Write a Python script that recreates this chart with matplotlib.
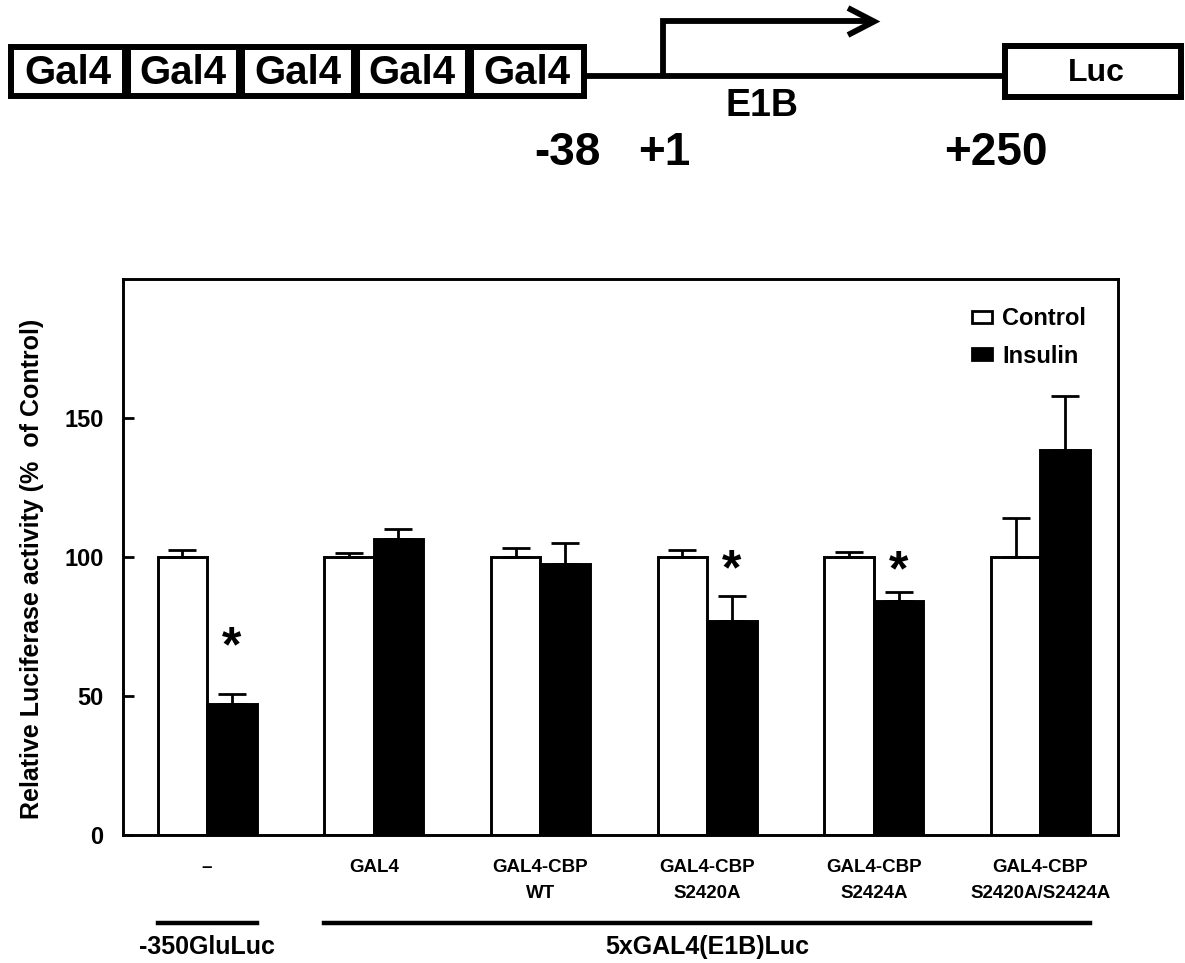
import matplotlib
matplotlib.use("Agg")
import matplotlib.pyplot as plt
import matplotlib.transforms as mtransforms
from matplotlib.patches import Rectangle
from matplotlib.lines import Line2D
import numpy as np

plt.rcParams['font.family'] = ['Liberation Sans', 'DejaVu Sans']
plt.rcParams['font.weight'] = 'bold'

# ---- data -------------------------------------------------------------
categories = ["\u2013", "GAL4", "GAL4-CBP\nWT", "GAL4-CBP\nS2420A",
              "GAL4-CBP\nS2424A", "GAL4-CBP\nS2420A/S2424A"]
control = [100, 100, 100, 100, 100, 100]
control_err = [2.5, 1.5, 3.3, 2.5, 1.8, 14.0]
insulin = [47.0, 106.5, 97.5, 77.0, 84.0, 138.5]
insulin_err = [3.7, 3.6, 7.5, 9.0, 3.5, 19.3]
significance_y = [67, None, None, 95, 94.5, None]   # asterisk heights

reporters = ["-350GluLuc", "5xGAL4(E1B)Luc"]
reporter_groups = [(0, 0), (1, 5)]

series_names = ["Control", "Insulin"]
yticks = [0, 50, 100, 150]

# promoter schematic labels
site_labels = ["Gal4"] * 5
core_label = "E1B"
gene_label = "Luc"
coord_labels = ["-38", "+1", "+250"]

# ---- figure -----------------------------------------------------------
W, H = 1185, 963
fig = plt.figure(figsize=(W / 100, H / 100), dpi=100)

# schematic drawn on a pixel-coordinate canvas
axd = fig.add_axes([0, 0, 1, 1])
axd.set_xlim(0, W)
axd.set_ylim(H, 0)
axd.axis('off')

lw_box = 4.3
box_left, box_right, box_top, box_bot = 11, 584, 47, 96
step = (box_right - box_left) / len(site_labels)
axd.add_patch(Rectangle((box_left, box_top), box_right - box_left, box_bot - box_top,
                        fill=False, lw=lw_box, ec='black', joinstyle='miter'))
for i, lab in enumerate(site_labels):
    if i > 0:
        xd = box_left + i * step
        axd.plot([xd, xd], [box_top, box_bot], color='black', lw=6.5, solid_capstyle='butt')
    axd.text(box_left + (i + 0.5) * step, (box_top + box_bot) / 2 + 1, lab,
             ha='center', va='center', fontsize=29, fontweight='bold')

# main line, promoter arrow
axd.plot([box_right, 1005], [76, 76], color='black', lw=4.2, solid_capstyle='butt')
axd.plot([663, 663, 872], [78, 21.5, 21.5], color='black', lw=4.2,
         solid_joinstyle='miter', solid_capstyle='butt')
axd.plot([848, 874, 848], [8, 21.5, 35], color='black', lw=4.2,
         solid_joinstyle='miter', solid_capstyle='butt')
axd.text(762, 106, core_label, ha='center', va='center', fontsize=27, fontweight='bold')

# reporter gene box
axd.add_patch(Rectangle((1005, 46), 176, 51, fill=False, lw=lw_box, ec='black',
                        joinstyle='miter'))
axd.text(1096, 73, gene_label, ha='center', va='center', fontsize=23, fontweight='bold')

for xc, lab in zip([567, 664, 996], coord_labels):
    axd.text(xc, 153, lab, ha='center', va='center', fontsize=33, fontweight='bold')

# ---- bar chart ----------------------------------------------------------
ax = fig.add_axes([123 / W, (H - 835) / H, 995 / W, 556 / H])
x = np.arange(len(categories))
w = 0.297

ax.bar(x - w / 2, control, w, color='white', edgecolor='black', linewidth=2.1,
       label=series_names[0], zorder=2)
ax.bar(x + w / 2, insulin, w, color='black', edgecolor='black', linewidth=2.1,
       label=series_names[1], zorder=2)
ax.errorbar(x - w / 2, control, yerr=[np.zeros(len(x)), control_err], fmt='none',
            ecolor='black', elinewidth=2.0, capsize=10, capthick=2.0, zorder=3)
ax.errorbar(x + w / 2, insulin, yerr=[np.zeros(len(x)), insulin_err], fmt='none',
            ecolor='black', elinewidth=2.0, capsize=10, capthick=2.0, zorder=3)

for xi, sy in zip(x, significance_y):
    if sy is not None:
        ax.text(xi + w / 2, sy, "*", ha='center', va='center', fontsize=36,
                fontweight='bold')

ax.set_xlim(-0.504, 5.465)
ax.set_ylim(0, 200)
ax.set_yticks(yticks)
ax.set_yticklabels([str(t) for t in yticks], fontsize=17, fontweight='bold')
ax.tick_params(axis='y', direction='in', length=8, width=2, pad=14)
ax.set_xticks(x)
ax.set_xticklabels(categories, fontsize=13.5, fontweight='bold', linespacing=1.7)
ax.tick_params(axis='x', length=0, pad=17.5)
for sp in ax.spines.values():
    sp.set_linewidth(2.1)

ax.set_ylabel("Relative Luciferase activity (%  of Control)", fontsize=18,
              fontweight='bold', va='center', ha='center')
ax.yaxis.set_label_coords(-0.0915, 0.478)

handles = [Rectangle((0, 0), 1, 1, fc='white', ec='black', lw=2),
           Rectangle((0, 0), 1, 1, fc='black', ec='black', lw=2)]
ax.legend(handles, series_names, loc='upper left', bbox_to_anchor=(0.853, 0.949),
          frameon=False, borderpad=0, borderaxespad=0, handlelength=0.85,
          handleheight=0.45, handletextpad=0.45, labelspacing=0.6,
          prop={'size': 17, 'weight': 'bold'})

# reporter construct brackets under the categories
trans = mtransforms.blended_transform_factory(ax.transData, ax.transAxes)
for (g0, g1), name in zip(reporter_groups, reporters):
    x0, x1 = g0 - w, g1 + w
    ax.add_line(Line2D([x0, x1], [-0.158, -0.158], color='black', lw=3.2,
                       transform=trans, clip_on=False))
    ax.text((x0 + x1) / 2, -0.201, name, transform=trans, ha='center', va='center',
            fontsize=18, fontweight='bold', clip_on=False)

fig.savefig("out.png", dpi=100)
